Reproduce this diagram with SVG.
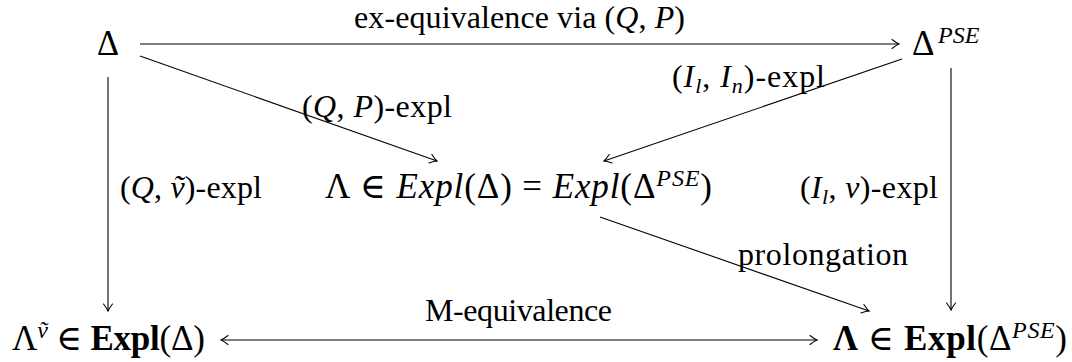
<svg xmlns="http://www.w3.org/2000/svg" width="1072" height="362" viewBox="0 0 1072 362">
<style>
text{font-family:"Liberation Serif","DejaVu Serif",serif;font-size:32px;fill:#000}
.m{font-size:35px}
.i{font-style:italic}
.b{font-weight:bold}
.sup{font-size:24px;font-style:italic}
.sub{font-size:22px;font-style:italic}
.edge{stroke:#000;stroke-width:1.1;fill:none}
</style>
<defs>
<marker id="ah" markerUnits="userSpaceOnUse" markerWidth="14" markerHeight="12" viewBox="-8 -6 10 12" refX="0" refY="0" orient="auto-start-reverse">
<path d="M-7,-4.5 Q-2.5,-1 0,0 Q-2.5,1 -7,4.5" stroke="#000" stroke-width="1.1" fill="none" stroke-linecap="round"/>
</marker>
</defs>
<rect width="1072" height="362" fill="#fff"/>
<g id="connectors">
<line class="edge" x1="140" y1="44" x2="899" y2="44" marker-end="url(#ah)"/>
<line class="edge" x1="140" y1="56" x2="437" y2="161" marker-end="url(#ah)"/>
<line class="edge" x1="902" y1="59" x2="604" y2="161" marker-end="url(#ah)"/>
<line class="edge" x1="108" y1="77" x2="108" y2="311" marker-end="url(#ah)"/>
<line class="edge" x1="951" y1="68" x2="951" y2="310" marker-end="url(#ah)"/>
<line class="edge" x1="600" y1="217" x2="869" y2="311" marker-end="url(#ah)"/>
<line class="edge" x1="221" y1="340" x2="817" y2="340" marker-start="url(#ah)" marker-end="url(#ah)"/>
<g id="labels">
<text x="354" y="28" textLength="331" lengthAdjust="spacing">ex-equivalence via (<tspan class="i">Q</tspan>, <tspan class="i">P</tspan>)</text>
<text x="302" y="117" textLength="150" lengthAdjust="spacing">(<tspan class="i">Q</tspan>, <tspan class="i">P</tspan>)-expl</text>
<text x="672" y="87" textLength="153" lengthAdjust="spacing">(<tspan class="i">I</tspan><tspan class="sub" dy="6">l</tspan><tspan dy="-6">, </tspan><tspan class="i">I</tspan><tspan class="sub" dy="6">n</tspan><tspan dy="-6">)-expl</tspan></text>
<text x="120" y="198" textLength="142" lengthAdjust="spacing">(<tspan class="i">Q</tspan>, <tspan class="i">ṽ</tspan>)-expl</text>
<text x="800" y="198" textLength="138" lengthAdjust="spacing">(<tspan class="i">I</tspan><tspan class="sub" dy="6">l</tspan><tspan dy="-6">, </tspan><tspan class="i">v</tspan>)-expl</text>
<text x="738" y="265" textLength="170" lengthAdjust="spacing">prolongation</text>
<text x="425" y="321" textLength="187" lengthAdjust="spacing">M-equivalence</text>
</g>
</g>
<g id="n-delta"><text class="m" x="97" y="55" textLength="22" lengthAdjust="spacingAndGlyphs">Δ</text></g>
<g id="n-delta-pse"><text class="m" x="912" y="55">Δ<tspan class="sup" font-size="27" x="938" dy="-12">PSE</tspan></text></g>
<g id="n-lambda"><text class="m" x="325" y="198" textLength="387" lengthAdjust="spacing">Λ ∈ <tspan class="i">Expl</tspan>(Δ) = <tspan class="i">Expl</tspan>(Δ<tspan class="sup" dy="-12">PSE</tspan><tspan dy="12">)</tspan></text></g>
<g id="n-lambda-v"><text class="m" x="12" y="350" textLength="193" lengthAdjust="spacing">Λ<tspan class="sup" dy="-12">ṽ</tspan><tspan dy="12"> ∈ </tspan><tspan class="b">Expl</tspan>(Δ)</text></g>
<g id="n-lambda-pse"><text class="m" x="833" y="350" textLength="234" lengthAdjust="spacing"><tspan class="b">Λ</tspan> ∈ <tspan class="b">Expl</tspan>(Δ<tspan class="sup" dy="-12">PSE</tspan><tspan dy="12">)</tspan></text></g>
</svg>
